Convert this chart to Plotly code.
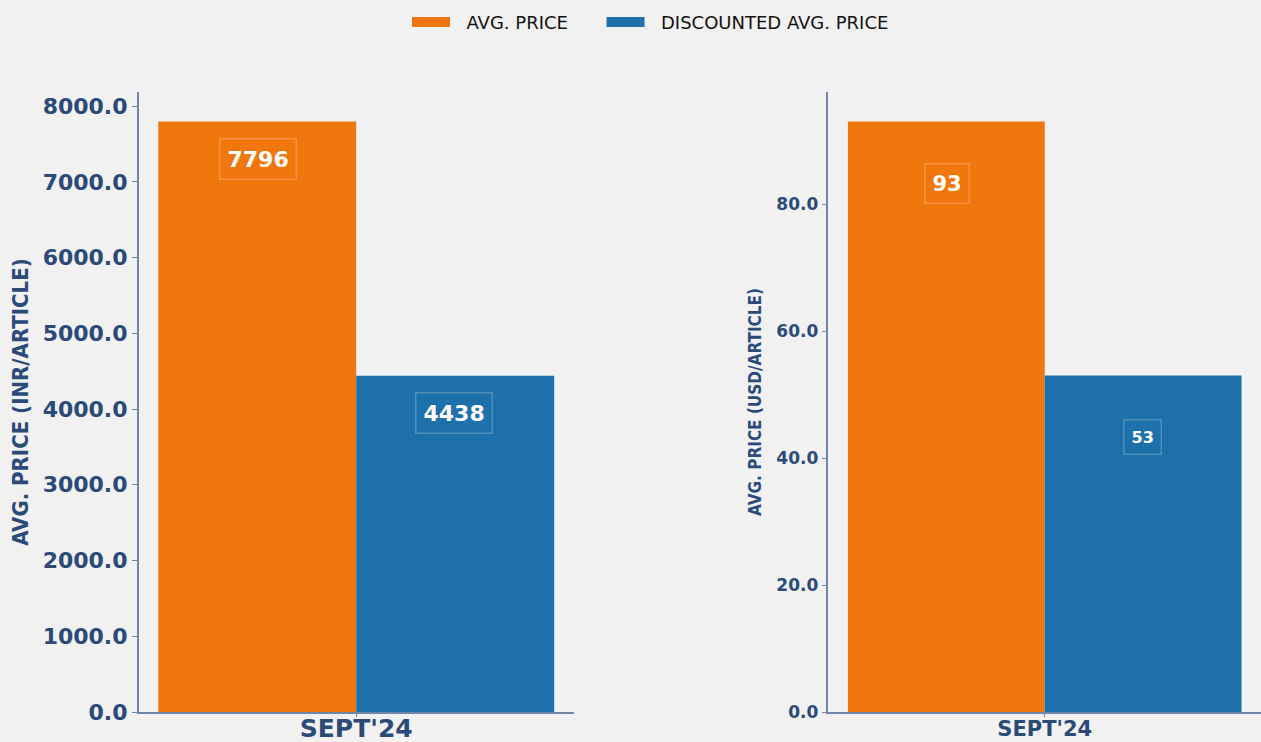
import plotly.graph_objects as go

categories = ["SEPT'24"]
avg_price_inr = [7796]
disc_price_inr = [4438]
avg_price_usd = [93]
disc_price_usd = [53]
series_names = ["AVG. PRICE", "DISCOUNTED AVG. PRICE"]
inr_ticks = [0, 1000, 2000, 3000, 4000, 5000, 6000, 7000, 8000]
usd_ticks = [0, 20, 40, 60, 80]

ORANGE = "#F0760E"
BLUE = "#1E70AA"
NAVY = "#2B4A78"
AXIS = "#6F84A6"
FONT = "DejaVu Sans"
colors = [ORANGE, BLUE]

fig = go.Figure()
fig.add_trace(go.Bar(x=categories, y=avg_price_inr, name=series_names[0], marker_color=ORANGE,
                     marker_line_width=0, xaxis="x", yaxis="y", showlegend=False, legendgroup="a"))
fig.add_trace(go.Bar(x=categories, y=disc_price_inr, name=series_names[1], marker_color=BLUE,
                     marker_line_width=0, xaxis="x", yaxis="y", showlegend=False, legendgroup="b"))
fig.add_trace(go.Bar(x=categories, y=avg_price_usd, name=series_names[0], marker_color=ORANGE,
                     marker_line_width=0, xaxis="x2", yaxis="y2", showlegend=False, legendgroup="a"))
fig.add_trace(go.Bar(x=categories, y=disc_price_usd, name=series_names[1], marker_color=BLUE,
                     marker_line_width=0, xaxis="x2", yaxis="y2", showlegend=False, legendgroup="b"))
# legend-only entries with wide rectangular swatches
NB = "\u00a0"
for i, (nm, col, grp) in enumerate(zip(series_names, colors, ["a", "b"])):
    label = NB * 2 + nm + (NB * 5 if i == 0 else "")
    fig.add_trace(go.Scatter(x=[None], y=[None], mode="lines", name=label,
                             legendgroup=grp, line=dict(color=col, width=14),
                             xaxis="x", yaxis="y", hoverinfo="skip"))

box = dict(bordercolor="rgba(255,255,255,0.22)", borderwidth=1.5, borderpad=7, showarrow=False)
fig.add_annotation(x=-0.225, y=avg_price_inr[0], xref="x", yref="y", text=f"<b>{avg_price_inr[0]}</b>",
                   yanchor="middle", yshift=-37, font=dict(family=FONT, size=22, color="white"), **box)
fig.add_annotation(x=0.225, y=disc_price_inr[0], xref="x", yref="y", text=f"<b>{disc_price_inr[0]}</b>",
                   yanchor="middle", yshift=-37, font=dict(family=FONT, size=22, color="white"), **box)
fig.add_annotation(x=-0.225, y=avg_price_usd[0], xref="x2", yref="y2", text=f"<b>{avg_price_usd[0]}</b>",
                   yanchor="middle", yshift=-62, font=dict(family=FONT, size=21, color="white"), **box)
fig.add_annotation(x=0.225, y=disc_price_usd[0], xref="x2", yref="y2", text=f"<b>{disc_price_usd[0]}</b>",
                   yanchor="middle", yshift=-62, font=dict(family=FONT, size=16, color="white"), **box)

common = dict(showline=True, linecolor=AXIS, linewidth=1.5, showgrid=False, zeroline=False,
              tickcolor=AXIS, automargin=False)

fig.update_layout(
    width=1261, height=742,
    paper_bgcolor="#F1F1F1", plot_bgcolor="rgba(0,0,0,0)",
    margin=dict(l=0, r=0, t=92, b=30, autoexpand=False),
    barmode="group", bargap=0.09, bargroupgap=0,
    font=dict(family=FONT, color=NAVY),
    legend=dict(orientation="h", x=407 / 1261, xanchor="left", y=0.995, yanchor="top", yref="container",
                font=dict(family=FONT, size=18, color="#111111"), bgcolor="rgba(0,0,0,0)",
                traceorder="normal", itemwidth=38),
    xaxis=dict(domain=[0.110, 0.455], anchor="y", ticks="outside", ticklen=3, ticklabelstandoff=-10,
               tickfont=dict(family=FONT, size=25, color=NAVY, weight="bold"), **common),
    yaxis=dict(anchor="x", range=[0, max(avg_price_inr) * 1.05], tickvals=inr_ticks,
               ticks="outside", ticklen=5,
               tickformat=".1f", tickfont=dict(family=FONT, size=22, color=NAVY, weight="bold"),
               title=dict(text="<b>AVG. PRICE (INR/ARTICLE)</b>", standoff=8,
                          font=dict(family="DejaVu Sans Condensed", size=22, color=NAVY)),
               **common),
    xaxis2=dict(domain=[0.657, 1.0], anchor="y2", ticks="outside", ticklen=3, ticklabelstandoff=-6,
                tickfont=dict(family=FONT, size=21, color=NAVY, weight="bold"), **common),
    yaxis2=dict(anchor="x2", range=[0, max(avg_price_usd) * 1.05], tickvals=usd_ticks,
                ticks="outside", ticklen=5,
                tickformat=".1f", tickfont=dict(family=FONT, size=17, color=NAVY, weight="bold"),
                title=dict(text="<b>AVG. PRICE (USD/ARTICLE)</b>", standoff=10,
                           font=dict(family="DejaVu Sans Condensed", size=17, color=NAVY)),
                **common),
)

fig.write_html("out.html", config={"displayModeBar": False},
               post_script="document.body.style.margin='0';document.body.style.overflow='hidden';")
